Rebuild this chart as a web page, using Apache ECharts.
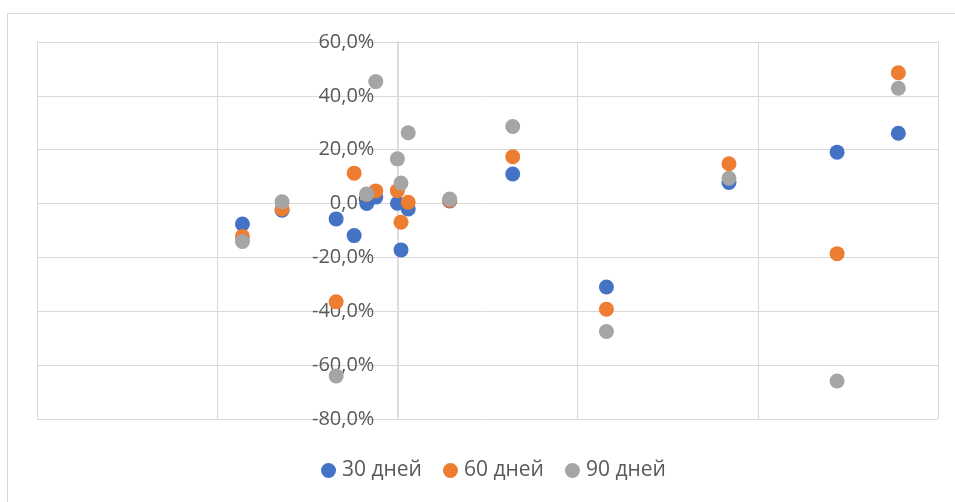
<!DOCTYPE html>
<html>
<head>
<meta charset="utf-8">
<script src="https://cdn.jsdelivr.net/npm/echarts@6/dist/echarts.min.js"></script>
<style>html,body{margin:0;padding:0;background:#fff}#c{width:955px;height:502px}</style>
</head>
<body>
<div id="c"></div>
<script>
// Series names
const seriesNames = ['30 дней', '60 дней', '90 дней'];
// [x, y%] points
const days30 = [[-8.6,-7.6],[-6.4,-2.5],[-3.4,-5.7],[-2.4,-11.9],[-1.7,0.0],[-1.2,2.4],[0,0.1],[0.2,-17.2],[0.6,-2.0],[2.9,1.0],[6.4,11.0],[11.6,-31.0],[18.4,7.8],[24.4,19.1],[27.8,26.1]];
const days60 = [[-8.6,-12.2],[-6.4,-2.0],[-3.4,-36.5],[-2.4,11.3],[-1.7,3.4],[-1.2,4.7],[0,4.8],[0.2,-6.9],[0.6,0.5],[2.9,1.2],[6.4,17.4],[11.6,-39.2],[18.4,14.8],[24.4,-18.6],[27.8,48.6]];
const days90 = [[-8.6,-14.1],[-6.4,0.7],[-3.4,-64.0],[-1.7,3.6],[-1.2,45.3],[0,16.6],[0.2,7.6],[0.6,26.3],[2.9,1.7],[6.4,28.6],[11.6,-47.5],[18.4,9.4],[24.4,-65.9],[27.8,42.8]];
const colors = ['#4472C4', '#ED7D31', '#A5A5A5'];
const xMin = -20, xMax = 30;

const chart = echarts.init(document.getElementById('c'));
const gridColor = '#d9d9d9';
const font = 'Open Sans';
const gridLeft = 37, gridRight = 17;
const plotW = 955 - gridLeft - gridRight;
// y axis sits at x = 0 of the x axis
const yAxisOffset = -plotW * (0 - xMin) / (xMax - xMin);
chart.setOption({
  animation: false,
  color: colors,
  graphic: [{
    type: 'rect', silent: true, z: -10,
    shape: { x: 7.5, y: 13.5, width: 1000, height: 600 },
    style: { fill: 'none', stroke: gridColor, lineWidth: 1 }
  }],
  grid: { left: gridLeft, top: 42, right: gridRight, bottom: 83, containLabel: false, outerBoundsMode: 'none' },
  legend: {
    top: 455, left: 316,
    icon: 'circle', itemWidth: 15, itemHeight: 15, itemGap: 21,
    textStyle: { color: '#595959', fontSize: 21, fontFamily: font, padding: [0, 0, 0, 1] },
    data: seriesNames
  },
  xAxis: {
    type: 'value', min: xMin, max: xMax, interval: 10,
    axisLine: { show: false }, axisTick: { show: false }, axisLabel: { show: false },
    splitLine: { show: true, lineStyle: { color: gridColor, width: 1 } }
  },
  yAxis: {
    type: 'value', min: -80, max: 60, interval: 20,
    position: 'left', offset: yAxisOffset,
    axisLine: { show: true, onZero: false, lineStyle: { color: gridColor, width: 1.5 } },
    axisTick: { show: false },
    axisLabel: {
      margin: 23, color: '#595959', fontSize: 20, fontFamily: font,
      formatter: v => v.toFixed(1).replace('.', ',') + '%'
    },
    splitLine: { show: true, lineStyle: { color: gridColor, width: 1 } }
  },
  series: [days30, days60, days90].map((d, i) => ({
    name: seriesNames[i], type: 'scatter', data: d, symbolSize: 15,
    itemStyle: { color: colors[i], opacity: 1 }
  }))
});
</script>
</body>
</html>
